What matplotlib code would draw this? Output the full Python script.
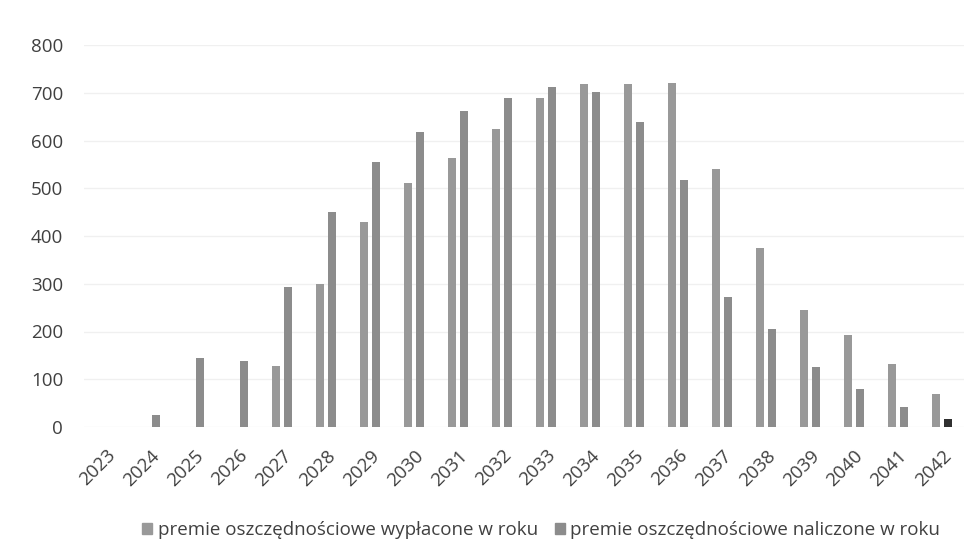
import matplotlib
matplotlib.use("Agg")
import matplotlib.pyplot as plt
import numpy as np
from matplotlib.patches import Patch

years = [str(y) for y in range(2023, 2043)]
wyplacone = [0, 0, 0, 0, 127, 300, 430, 510, 564, 625, 688, 718, 718, 720, 540, 375, 244, 192, 132, 69]
naliczone = [0, 25, 145, 138, 293, 450, 554, 617, 661, 690, 711, 702, 639, 517, 272, 206, 125, 79, 41, 16]
labels = ["premie oszczędnościowe wypłacone w roku", "premie oszczędnościowe naliczone w roku"]
yticks = [0, 100, 200, 300, 400, 500, 600, 700, 800]

plt.rcParams['font.family'] = ['Open Sans', 'DejaVu Sans']

fig = plt.figure(figsize=(9.78, 5.6), dpi=100)
ax = fig.add_axes([84/978, (560-427)/560, (964-84)/978, (427-45)/560])

x = np.arange(len(years))
w = 0.2
off = 0.137
c1 = '#999999'
c2 = '#8c8c8c'
ax.bar(x - off, wyplacone, w, color=c1, label=labels[0], zorder=2)
cols2 = [c2] * len(years)
cols2[-1] = '#303030'
ax.bar(x + off, naliczone, w, color=cols2, label=labels[1], zorder=2)

ax.set_xlim(-0.5, len(years) - 0.5)
ax.set_ylim(0, 800)
ax.set_yticks(yticks)
ax.set_yticklabels([str(v) for v in yticks], fontsize=13.5, color='#404040')
ax.set_xticks(x)
ax.set_xticklabels(years, rotation=45, ha='right', rotation_mode='anchor', fontsize=13.5, color='#404040')
ax.tick_params(axis='both', length=0)
ax.tick_params(axis='y', pad=15)
ax.tick_params(axis='x', pad=14)
ax.grid(axis='y', color='#f0f0f0', linewidth=1, zorder=0)
for s in ax.spines.values():
    s.set_visible(False)

handles = [Patch(color=c1), Patch(color=c2)]
fig.legend(handles, labels, loc='center', bbox_to_anchor=(541/978, 1 - 530/560), ncol=2,
           frameon=False, fontsize=13.5, handlelength=0.55, handleheight=0.55, handletextpad=0.3,
           columnspacing=0.9, labelcolor='#404040')

fig.savefig('out.png', dpi=100)
